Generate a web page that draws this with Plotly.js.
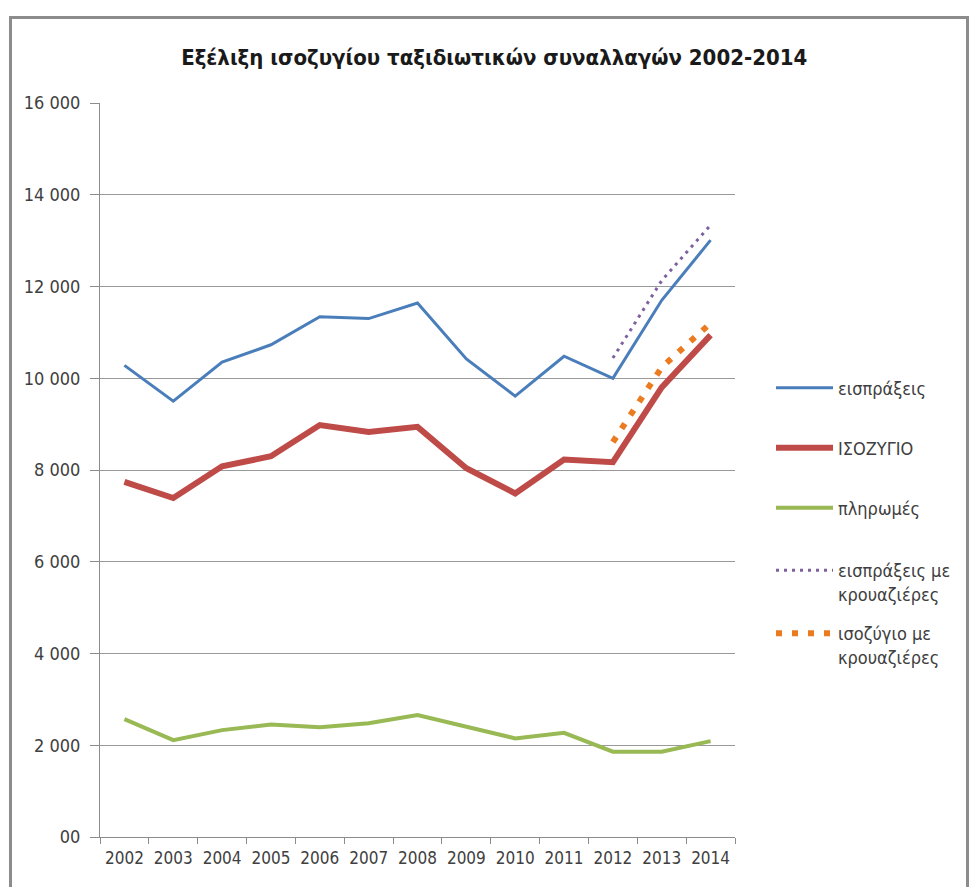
<!DOCTYPE html>
<html>
<head>
<meta charset="utf-8">
<script src="https://cdn.plot.ly/plotly-3.0.1.min.js"></script>
<style>
  body { margin: 0; background: #ffffff; }
  #chart { position: absolute; left: 0; top: 0; width: 969px; height: 887px; }
  #frame { position: absolute; left: 9px; top: 16px; width: 954px; height: 900px;
           border: 3px solid #8c8c8c; border-bottom: none; pointer-events: none; }
</style>
</head>
<body>
<div id="chart"></div>
<div id="frame"></div>
<script>
// ---- data ----
const years = ["2002","2003","2004","2005","2006","2007","2008","2009","2010","2011","2012","2013","2014"];
const receipts = [10280, 9500, 10350, 10730, 11340, 11300, 11640, 10420, 9610, 10480, 10000, 11700, 13010];
const balance  = [7740, 7390, 8080, 8300, 8980, 8830, 8940, 8040, 7490, 8230, 8170, 9800, 10940];
const payments = [2570, 2110, 2330, 2450, 2390, 2480, 2660, 2400, 2150, 2270, 1860, 1860, 2090];
const cruiseYears = ["2012","2013","2014"];
const receiptsCruise = [10440, 12130, 13340];
const balanceCruise  = [8610, 10240, 11200];
const yTickVals = [0, 2000, 4000, 6000, 8000, 10000, 12000, 14000, 16000];
const yTickText = ["00", "2 000", "4 000", "6 000", "8 000", "10 000", "12 000", "14 000", "16 000"];
const names = ["εισπράξεις", "ΙΣΟΖΥΓΙΟ", "πληρωμές", "εισπράξεις με<br>κρουαζιέρες", "ισοζύγιο με<br>κρουαζιέρες"];
const titleText = "Εξέλιξη ισοζυγίου ταξιδιωτικών συναλλαγών 2002-2014";

const FONT = "DejaVu Sans Condensed, Liberation Sans, sans-serif";
const TXT = "#404040";

const traces = [
  {x: years, y: receipts, name: names[0], mode: "lines", line: {color: "#4a7ebb", width: 3}, legend: "legend"},
  {x: years, y: balance, name: names[1], mode: "lines", line: {color: "#be4b48", width: 6}, legend: "legend2"},
  {x: years, y: payments, name: names[2], mode: "lines", line: {color: "#98b954", width: 4}, legend: "legend3"},
  {x: cruiseYears, y: receiptsCruise, name: names[3], mode: "lines", line: {color: "#7d60a0", width: 3, dash: "3px,5px"}, legend: "legend4"},
  {x: cruiseYears, y: balanceCruise, name: names[4], mode: "lines", line: {color: "#ec7a1e", width: 6, dash: "6px,10px"}, legend: "legend5"}
];

// plot area: x 100..735, y 103..837
function py(px) { return (837 - px) / 734; }
const LX = (771 - 100) / 635;
function leg(ypx, anchor) {
  return {x: LX, xanchor: "left", y: py(ypx), yanchor: anchor, valign: "top",
          bgcolor: "rgba(0,0,0,0)", borderwidth: 0, itemwidth: 57,
          font: {family: FONT, size: 18, color: TXT}};
}

const layout = {
  width: 969, height: 887,
  margin: {l: 100, r: 234, t: 103, b: 50},
  paper_bgcolor: "#ffffff", plot_bgcolor: "#ffffff",
  title: {text: titleText, x: 0.51, xanchor: "center", y: 0.935, yanchor: "middle",
          font: {family: FONT, size: 22, color: "#1a1a1a", weight: 700}},
  showlegend: true,
  legend: leg(388, "middle"),
  legend2: leg(448, "middle"),
  legend3: leg(508, "middle"),
  legend4: leg(552, "top"),
  legend5: leg(615, "top"),
  xaxis: {type: "category", range: [-0.5, 12.5], tickson: "boundaries",
          ticks: "outside", ticklen: 6, tickcolor: "#8c8c8c", showline: true, linecolor: "#8c8c8c",
          showgrid: false, zeroline: false, fixedrange: true, ticklabelstandoff: 6,
          tickfont: {family: FONT, size: 17, color: TXT}},
  yaxis: {range: [0, 16000], tickvals: yTickVals, ticktext: yTickText,
          ticks: "outside", ticklen: 9, tickcolor: "#8c8c8c", showline: true, linecolor: "#8c8c8c",
          showgrid: true, gridcolor: "#999999", gridwidth: 1, zeroline: false, fixedrange: true,
          ticklabelstandoff: 6,
          tickfont: {family: FONT, size: 18, color: TXT}}
};

Plotly.newPlot("chart", traces, layout, {displayModeBar: false, staticPlot: true});
</script>
</body>
</html>
